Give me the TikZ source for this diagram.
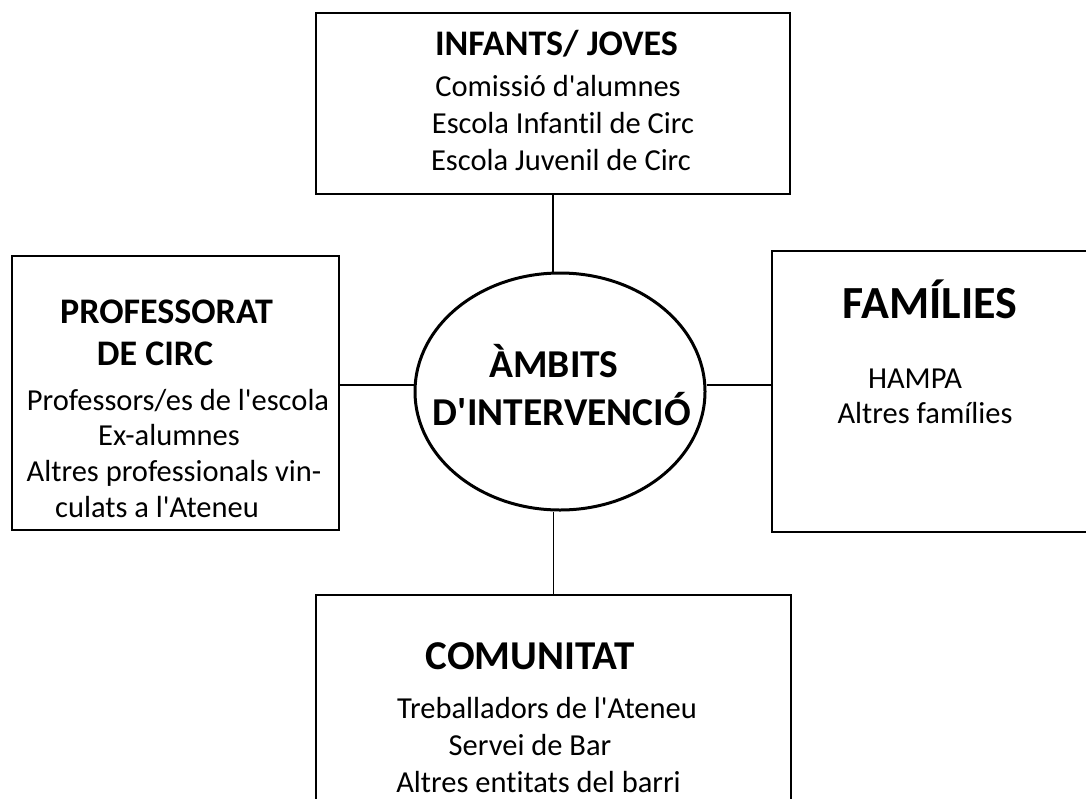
\documentclass[tikz,border=0pt]{standalone}
\usepackage{fontspec}
\setmainfont{Carlito}[Ligatures=NoCommon]
\usetikzlibrary{shapes.geometric}
\newcommand{\ap}{\textquotesingle}
\begin{document}
\begin{tikzpicture}[x=1pt, y=-1pt,
    caixa/.style={draw, line width=1.6pt, inner sep=0pt},
    titol/.style={anchor=base, font=\bfseries\fontsize{36}{42}\selectfont},
    linia/.style={anchor=base, font=\fontsize{30.5}{36}\selectfont},
    lligam/.style={line width=1.6pt}]
	\useasboundingbox (0,0) rectangle (1086,798);
	\clip (0,0) rectangle (1086,798);
	\node[caixa, minimum width=474pt, minimum height=181pt] (infants) at (553,103.5) {};
	\node[caixa, minimum width=327pt, minimum height=274pt] (prof) at (175.5,393) {};
	\node[caixa, minimum width=338pt, minimum height=281pt] (families) at (941,391.5) {};
	\node[caixa, minimum width=475pt, minimum height=235pt] (comunitat) at (553.5,712.5) {};
	\node[draw, ellipse, line width=3pt, minimum width=290pt, minimum height=237pt] (ambits) at (560,391.5) {};
	\coordinate (mig) at (551,385);
	\draw[lligam] (infants.south) -- (infants.south |- ambits.north);
	\draw[lligam] (comunitat.north) -- (comunitat.north |- ambits.south);
	\draw[lligam] (prof.east |- mig) -- (ambits.west |- mig);
	\draw[lligam] (ambits.east |- mig) -- (families.west |- mig);
	\node[titol] (infT) at (556.5,55) {INFANTS/ JOVES};
	\node[linia] (inf1) at (558,96) {Comissió d\ap alumnes};
	\node[linia] (inf2) at (563,133) {Escola Infantil de Circ};
	\node[linia] (inf3) at (561,170) {Escola Juvenil de Circ};
	\node[titol] (profT) at (166.5,323) {PROFESSORAT};
	\node[titol] (profT2) at (155,365) {DE CIRC};
	\node[linia] (prof1) at (178,410) {Professors/es de l\ap escola};
	\node[linia] (prof2) at (169,445) {Ex-alumnes};
	\node[linia] (prof3) at (174,481) {Altres professionals vin-};
	\node[linia] (prof4) at (157,517) {culats a l\ap Ateneu};
	\node[titol, font=\bfseries\fontsize{39.5}{46}\selectfont] (ambT) at (554,377) {ÀMBITS};
	\node[titol, font=\bfseries\fontsize{39.5}{46}\selectfont] (ambT2) at (562,425) {D\ap INTERVENCIÓ};
	\node[titol, font=\bfseries\fontsize{46}{54}\selectfont] (famT) at (930,318) {FAMÍLIES};
	\node[linia] (fam1) at (915,388) {HAMPA};
	\node[linia] (fam2) at (925,423) {Altres famílies};
	\node[titol, font=\bfseries\fontsize{41}{48}\selectfont] (comT) at (530,669) {COMUNITAT};
	\node[linia] (com1) at (547,718) {Treballadors de l\ap Ateneu};
	\node[linia] (com2) at (530,755) {Servei de Bar};
	\node[linia] (com3) at (538.5,792) {Altres entitats del barri};
\end{tikzpicture}
\end{document}
